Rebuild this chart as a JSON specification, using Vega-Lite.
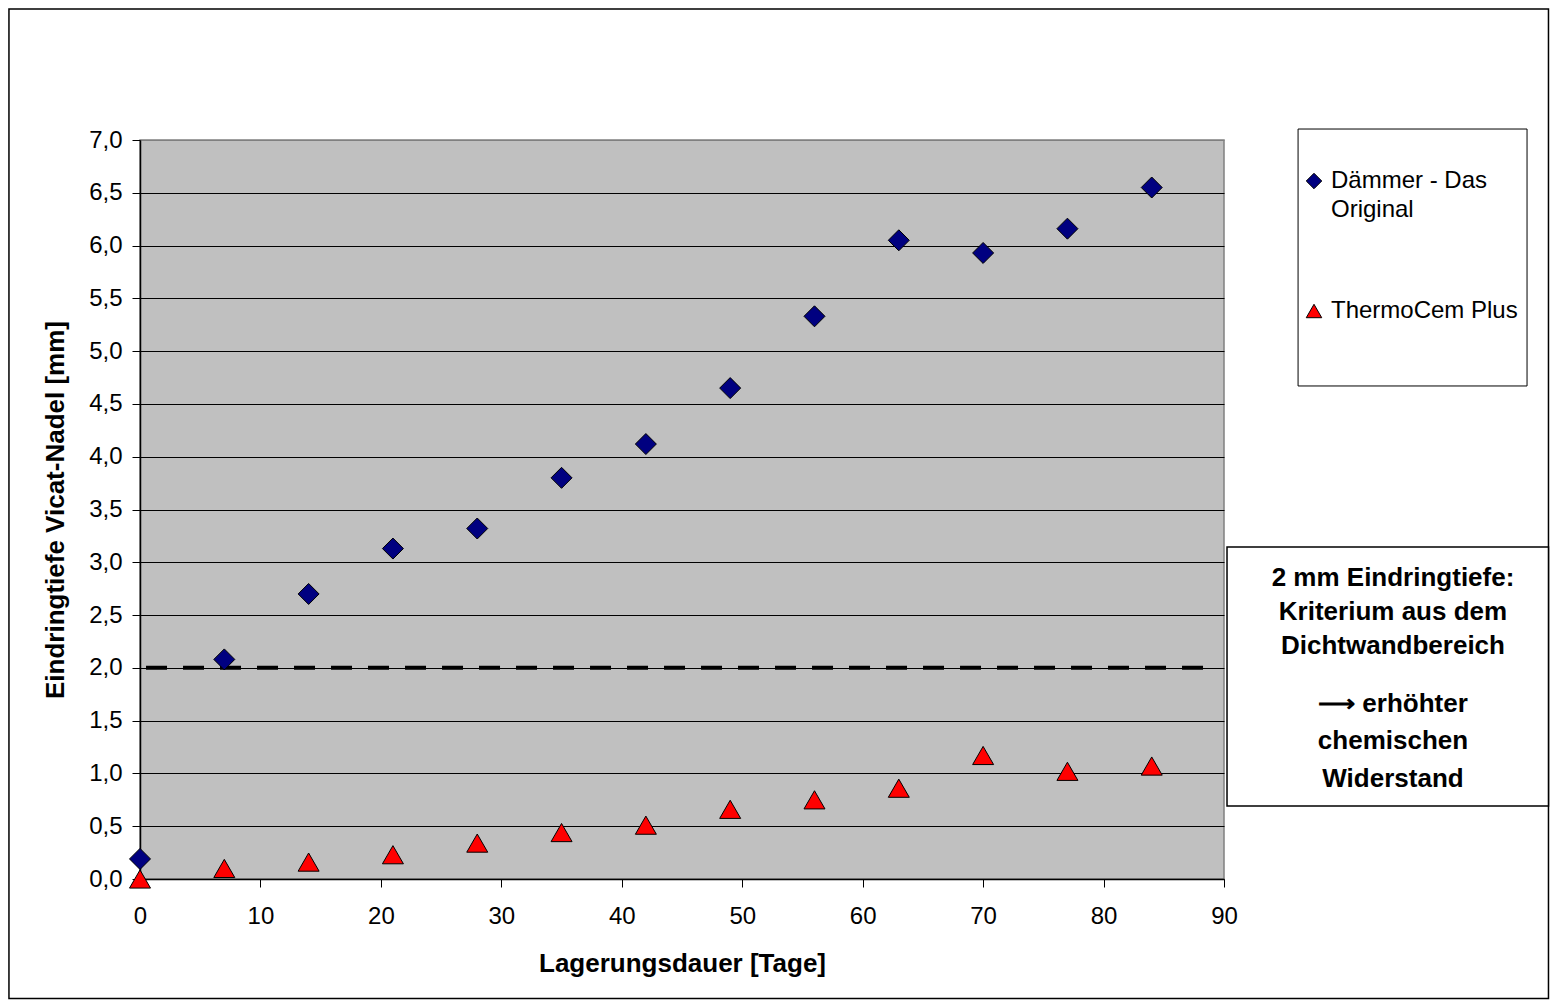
{
  "$schema": "https://vega.github.io/schema/vega-lite/v6.json",
  "width": 1084,
  "height": 739,
  "autosize": {"type": "none"},
  "padding": {"left": 140, "top": 140, "right": 326, "bottom": 121},
  "background": "white",
  "config": {
    "font": "Liberation Sans",
    "view": {"fill": "#C0C0C0", "stroke": "#808080", "strokeWidth": 1.5}
  },
  "datasets": {
    "messung": [
      {"Tage": 0, "Eindringtiefe": 0.19, "Produkt": "Dämmer - Das Original"},
      {"Tage": 7, "Eindringtiefe": 2.08, "Produkt": "Dämmer - Das Original"},
      {"Tage": 14, "Eindringtiefe": 2.70, "Produkt": "Dämmer - Das Original"},
      {"Tage": 21, "Eindringtiefe": 3.13, "Produkt": "Dämmer - Das Original"},
      {"Tage": 28, "Eindringtiefe": 3.32, "Produkt": "Dämmer - Das Original"},
      {"Tage": 35, "Eindringtiefe": 3.80, "Produkt": "Dämmer - Das Original"},
      {"Tage": 42, "Eindringtiefe": 4.12, "Produkt": "Dämmer - Das Original"},
      {"Tage": 49, "Eindringtiefe": 4.65, "Produkt": "Dämmer - Das Original"},
      {"Tage": 56, "Eindringtiefe": 5.33, "Produkt": "Dämmer - Das Original"},
      {"Tage": 63, "Eindringtiefe": 6.05, "Produkt": "Dämmer - Das Original"},
      {"Tage": 70, "Eindringtiefe": 5.93, "Produkt": "Dämmer - Das Original"},
      {"Tage": 77, "Eindringtiefe": 6.16, "Produkt": "Dämmer - Das Original"},
      {"Tage": 84, "Eindringtiefe": 6.55, "Produkt": "Dämmer - Das Original"},
      {"Tage": 0, "Eindringtiefe": 0.0, "Produkt": "ThermoCem Plus"},
      {"Tage": 7, "Eindringtiefe": 0.10, "Produkt": "ThermoCem Plus"},
      {"Tage": 14, "Eindringtiefe": 0.16, "Produkt": "ThermoCem Plus"},
      {"Tage": 21, "Eindringtiefe": 0.23, "Produkt": "ThermoCem Plus"},
      {"Tage": 28, "Eindringtiefe": 0.34, "Produkt": "ThermoCem Plus"},
      {"Tage": 35, "Eindringtiefe": 0.44, "Produkt": "ThermoCem Plus"},
      {"Tage": 42, "Eindringtiefe": 0.51, "Produkt": "ThermoCem Plus"},
      {"Tage": 49, "Eindringtiefe": 0.66, "Produkt": "ThermoCem Plus"},
      {"Tage": 56, "Eindringtiefe": 0.75, "Produkt": "ThermoCem Plus"},
      {"Tage": 63, "Eindringtiefe": 0.86, "Produkt": "ThermoCem Plus"},
      {"Tage": 70, "Eindringtiefe": 1.17, "Produkt": "ThermoCem Plus"},
      {"Tage": 77, "Eindringtiefe": 1.02, "Produkt": "ThermoCem Plus"},
      {"Tage": 84, "Eindringtiefe": 1.07, "Produkt": "ThermoCem Plus"}
    ],
    "einzeln": [{}]
  },
  "layer": [
    {
      "data": {"name": "einzeln"},
      "mark": {"type": "rect", "fill": null, "stroke": "black", "strokeWidth": 1.5, "clip": false},
      "encoding": {
        "x": {"datum": -10.88, "type": "quantitative"},
        "x2": {"datum": 116.94},
        "y": {"datum": 8.241, "type": "quantitative"},
        "y2": {"datum": -1.132}
      }
    },
    {
      "data": {"name": "einzeln"},
      "mark": {"type": "rule", "color": "black", "strokeWidth": 4, "strokeDash": [21, 16]},
      "encoding": {
        "x": {"datum": 0.5, "type": "quantitative"},
        "x2": {"datum": 89.34},
        "y": {"datum": 2, "type": "quantitative"}
      }
    },
    {
      "data": {"name": "messung"},
      "mark": {"type": "point", "filled": true, "stroke": "black", "strokeWidth": 1, "opacity": 1, "fillOpacity": 1, "size": 441},
      "encoding": {
        "x": {
          "field": "Tage", "type": "quantitative",
          "scale": {"domain": [0, 90], "nice": false, "zero": false},
          "title": "Lagerungsdauer [Tage]",
          "axis": {
            "values": [0, 10, 20, 30, 40, 50, 60, 70, 80, 90],
            "grid": false, "labelFlush": false,
            "labelFontSize": 24, "labelColor": "black", "labelPadding": 17,
            "titleFontSize": 26, "titleFontWeight": "bold", "titleColor": "black", "titlePadding": 22,
            "tickSize": 8, "tickColor": "black", "domainColor": "black", "domainWidth": 1.5
          }
        },
        "y": {
          "field": "Eindringtiefe", "type": "quantitative",
          "scale": {"domain": [0, 7], "nice": false},
          "title": "Eindringtiefe Vicat-Nadel [mm]",
          "axis": {
            "values": [0, 0.5, 1, 1.5, 2, 2.5, 3, 3.5, 4, 4.5, 5, 5.5, 6, 6.5, 7],
            "labelExpr": "replace(format(datum.value, '.1f'), '.', ',')",
            "grid": true, "labelFlush": false,
            "gridColor": {"condition": {"test": "datum.value == 7", "value": "#808080"}, "value": "black"},
            "gridWidth": 1, "gridOpacity": 1,
            "labelFontSize": 24, "labelColor": "black", "labelPadding": 10,
            "titleFontSize": 26, "titleFontWeight": "bold", "titleColor": "black", "titlePadding": 20,
            "tickSize": 8, "tickColor": "black", "domainColor": "black", "domainWidth": 1.5
          }
        },
        "shape": {
          "field": "Produkt", "type": "nominal",
          "scale": {"domain": ["Dämmer - Das Original", "ThermoCem Plus"], "range": ["diamond", "triangle-up"]},
          "legend": {
            "title": null, "orient": "none", "legendX": 1162, "legendY": 29,
            "labelFontSize": 24, "labelColor": "black", "labelOffset": 5,
            "labelBaseline": "middle", "labelLimit": 300,
            "labelExpr": "datum.label == 'Dämmer - Das Original' ? ['Dämmer - Das', 'Original'] : datum.label",
            "symbolSize": 240, "symbolStrokeColor": "black", "symbolStrokeWidth": 1, "symbolOpacity": 1,
            "rowPadding": 77, "padding": 0,
            "encode": {"labels": {"update": {"lineHeight": {"value": 29}}}}
          }
        },
        "fill": {
          "field": "Produkt", "type": "nominal",
          "scale": {"domain": ["Dämmer - Das Original", "ThermoCem Plus"], "range": ["#000080", "#FF0000"]},
          "legend": {
            "title": null, "orient": "none", "legendX": 1162, "legendY": 29,
            "labelFontSize": 24, "labelColor": "black", "labelOffset": 5,
            "labelBaseline": "middle", "labelLimit": 300,
            "labelExpr": "datum.label == 'Dämmer - Das Original' ? ['Dämmer - Das', 'Original'] : datum.label",
            "symbolSize": 240, "symbolStrokeColor": "black", "symbolStrokeWidth": 1, "symbolOpacity": 1,
            "rowPadding": 77, "padding": 0,
            "encode": {"labels": {"update": {"lineHeight": {"value": 29}}}}
          }
        }
      }
    },
    {
      "data": {"name": "einzeln"},
      "mark": {"type": "rect", "fill": null, "stroke": "black", "strokeWidth": 1, "clip": false},
      "encoding": {
        "x": {"datum": 96.15, "type": "quantitative"},
        "x2": {"datum": 115.16},
        "y": {"datum": 7.104, "type": "quantitative"},
        "y2": {"datum": 4.67}
      }
    },
    {
      "data": {"name": "einzeln"},
      "mark": {"type": "rect", "fill": "white", "stroke": "black", "strokeWidth": 1.5, "clip": false},
      "encoding": {
        "x": {"datum": 90.25, "type": "quantitative"},
        "x2": {"datum": 116.94},
        "y": {"datum": 3.145, "type": "quantitative"},
        "y2": {"datum": 0.692}
      }
    },
    {
      "data": {"name": "einzeln"},
      "mark": {"type": "text", "fontSize": 26, "fontWeight": "bold", "fill": "black", "align": "center", "baseline": "middle", "lineHeight": 34, "clip": false},
      "encoding": {
        "x": {"datum": 104.03, "type": "quantitative"},
        "y": {"datum": 2.851, "type": "quantitative"},
        "text": {"value": ["2 mm Eindringtiefe:", "Kriterium aus dem", "Dichtwandbereich"]}
      }
    },
    {
      "data": {"name": "einzeln"},
      "mark": {"type": "text", "fontSize": 26, "fontWeight": "bold", "fill": "black", "align": "center", "baseline": "middle", "lineHeight": 37.5, "clip": false},
      "encoding": {
        "x": {"datum": 104.03, "type": "quantitative"},
        "y": {"datum": 1.658, "type": "quantitative"},
        "text": {"value": ["⟶ erhöhter", "chemischen", "Widerstand"]}
      }
    }
  ]
}
